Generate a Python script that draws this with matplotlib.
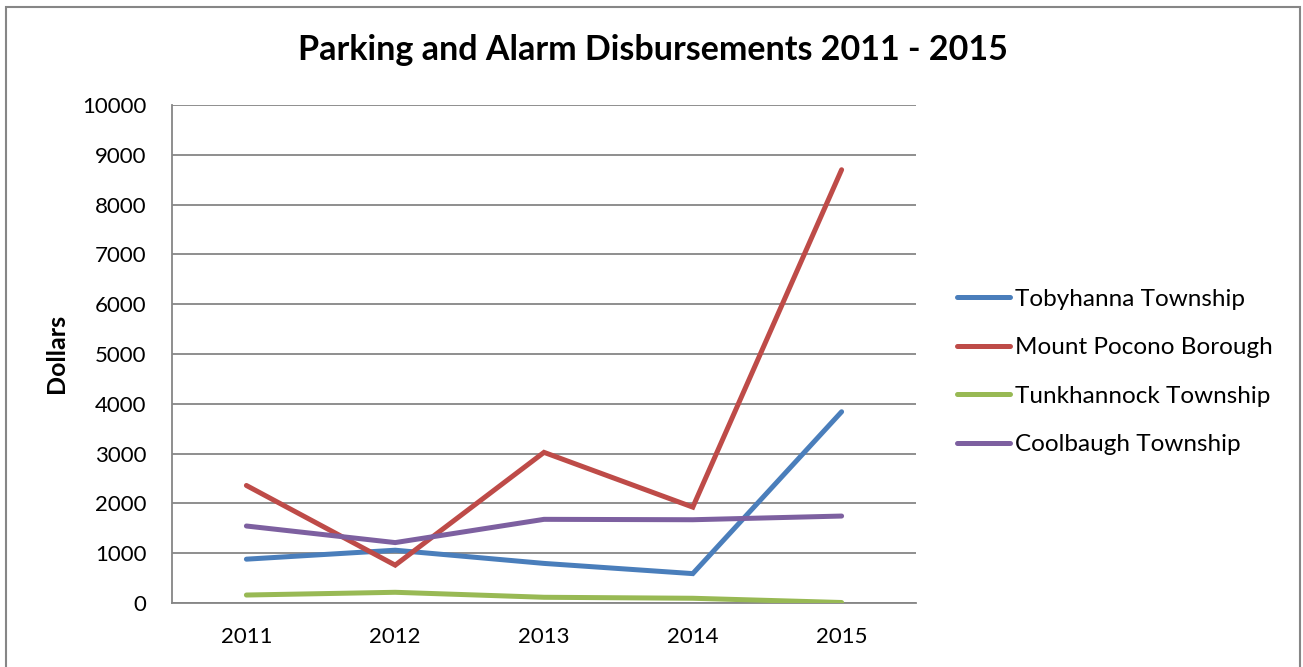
import matplotlib
matplotlib.use("Agg")
import matplotlib.pyplot as plt
from matplotlib.patches import Rectangle

years = ["2011", "2012", "2013", "2014", "2015"]
tobyhanna = [880, 1060, 795, 590, 3840]
mount_pocono = [2360, 760, 3025, 1925, 8700]
tunkhannock = [160, 215, 115, 95, 10]
coolbaugh = [1546, 1213, 1680, 1672, 1746]

series_names = ["Tobyhanna Township", "Mount Pocono Borough",
                "Tunkhannock Township", "Coolbaugh Township"]
series_vals = [tobyhanna, mount_pocono, tunkhannock, coolbaugh]
colors = ["#4A7EBB", "#BE4B48", "#98B954", "#7D60A0"]

plt.rcParams['font.family'] = ['Lato', 'DejaVu Sans']

W, H = 1303, 667
fig = plt.figure(figsize=(W / 100, H / 100), dpi=100)
fig.patch.set_facecolor("white")

ax = fig.add_axes([172 / W, (H - 603) / H, (916 - 172) / W, (603 - 105) / H])
x = list(range(len(years)))
for name, vals, c in zip(series_names, series_vals, colors):
    ax.plot(x, vals, color=c, linewidth=3.6, solid_capstyle="round",
            solid_joinstyle="miter", label=name, zorder=3)

ax.set_xlim(-0.5, len(years) - 0.5)
ax.set_ylim(0, 10000)
ax.set_yticks(range(0, 10001, 1000))
ax.set_xticks(x)
ax.set_xticklabels(years)
ax.yaxis.grid(True, color="#868686", linewidth=1.3, zorder=1)
ax.set_axisbelow(True)
for s in ["top", "right"]:
    ax.spines[s].set_visible(False)
for s in ["left", "bottom"]:
    ax.spines[s].set_color("#868686")
    ax.spines[s].set_linewidth(1.3)
ax.tick_params(axis="both", length=0, labelsize=16, colors="black")
ax.tick_params(axis="y", pad=18.5)
ax.tick_params(axis="x", pad=17.5)

ax.set_ylabel("Dollars", fontsize=18, fontweight="bold")
ax.yaxis.set_label_coords(56 / W, 1 - 353 / H, transform=fig.transFigure)
ax.yaxis.label.set_va("center")

fig.text(653 / W, 1 - 50 / H, "Parking and Alarm Disbursements 2011 - 2015",
         ha="center", va="center", fontsize=24.5, fontweight="bold")

leg = fig.legend(loc="center left", bbox_to_anchor=(957 / W, 1 - 372 / H),
                 frameon=False, fontsize=17.5, handlelength=2.2,
                 handletextpad=0.2, labelspacing=1.13, borderpad=0,
                 borderaxespad=0)

fig.patches.append(Rectangle((6 / W, -0.05), (1300 - 6) / W, (H - 7) / H + 0.05,
                             transform=fig.transFigure, fill=False,
                             edgecolor="#868686", linewidth=1.5))

fig.savefig("out.png", dpi=100)
